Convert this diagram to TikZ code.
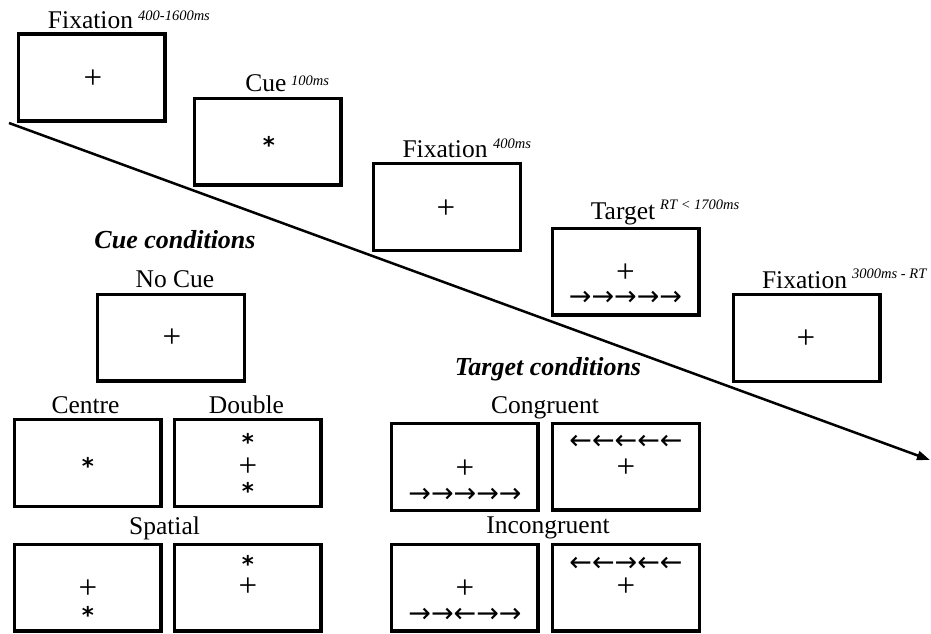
\documentclass[tikz,border=0pt]{standalone}
\usepackage{fontspec}
\setmainfont{Liberation Serif}
\newfontfamily\arrowfont{DejaVu Sans}
\newfontfamily\astfont{DejaVu Sans}
\usetikzlibrary{arrows.meta}
\newcommand\plusg{{\fontsize{33}{33}\selectfont +}}
\newcommand\astg{{\fontsize{23}{23}\astfont\bfseries *}}
\newcommand\arrg[1]{{\fontsize{27}{27}\arrowfont #1}}
\newcommand\gl[2]{\baselineskip=#1\relax\hbox to 0pt{\hss#2\hss}}
\newcommand\gstack[1]{\vbox{\lineskiplimit=-1000pt\lineskip=0pt #1}}
\tikzset{
  frame/.style={draw=black, line width=3.3pt, minimum width=146.7pt, minimum height=86.7pt, inner sep=0pt},
  lbl/.style={inner sep=0pt, anchor=base, font=\fontsize{25.5}{30}\selectfont},
  supl/.style={inner sep=0pt, anchor=base west, font=\fontsize{14.5}{16}\selectfont\itshape},
  head/.style={inner sep=0pt, anchor=base, font=\fontsize{26}{30}\selectfont\bfseries\itshape},
  plussign/.style={inner sep=0pt, yshift=-2pt, font=\fontsize{33}{33}\selectfont},
  astsign/.style={inner sep=0pt, anchor=base, yshift=2.5pt, font=\fontsize{23}{23}\selectfont\astfont\bfseries},
  gnode/.style={inner sep=0pt, anchor=base},
  timeline/.style={line width=2.5pt, -{Triangle[length=13pt,width=9pt]}}
}
\begin{document}
\begin{tikzpicture}[x=1pt,y=-1pt]
\useasboundingbox (0,0) rectangle (931,634);
\clip (0,0) rectangle (931,634);
% timeline
\coordinate (tstart) at (9,123);
\coordinate (tend) at (930,460);
\draw[timeline] (tstart) -- (tend);
% sequence boxes
\node[frame] (b1) at (91.5,77.5) {};
\node[frame] (b2) at (267.5,141.5) {};
\node[frame] (b3) at (447,207) {};
\node[frame] (b4) at (625.5,271.5) {};
\node[frame] (b5) at (806.5,338) {};
% titles
\node[lbl] (t1) at (90.5,29) {Fixation};
\node[supl] (s1) at (138,21) {400-1600ms};
\node[lbl] (t2) at (266,92) {Cue};
\node[supl] (s2) at (291,85) {100ms};
\node[lbl] (t3) at (445,157) {Fixation};
\node[supl] (s3) at (493,148) {400ms};
\node[lbl] (t4) at (623,219) {Target};
\node[supl] (s4) at (660,209) {RT < 1700ms};
\node[lbl] (t5) at (804.5,288) {Fixation};
\node[supl] (s5) at (852,278) {3000ms - RT};
% contents of sequence
\node[plussign] (p1) at (93,77) {+};
\node[astsign] (a2) at (269,156) {*};
\node[plussign] (p3) at (446,207) {+};
\node[gnode] (c4) at (625.5,305) {\gstack{\gl{0pt}{\plusg}\gl{22.7pt}{\arrg{→→→→→}}}};
\node[plussign] (p5) at (806,337) {+};
% cue conditions
\node[head] (cuehead) at (175,248) {Cue conditions};
\node[lbl] (nocuel) at (175,287) {No Cue};
\node[frame] (nocue) at (171,337.5) {};
\node[plussign] (pnc) at (172,336) {+};
\node[lbl] (centrel) at (85.5,413) {Centre};
\node[lbl] (doublel) at (246.5,413) {Double};
\node[frame] (centre) at (87.5,463) {};
\node[frame] (double) at (247.5,463) {};
\node[astsign] (ac) at (88,477) {*};
\node[gnode] (cd) at (248,499.5) {\gstack{\gl{0pt}{\astg}\gl{25.8pt}{\plusg}\gl{23.2pt}{\astg}}};
\node[lbl] (spatiall) at (164.5,534) {Spatial};
\node[frame] (spatl) at (87.5,587.5) {};
\node[frame] (spatr) at (247.5,587.5) {};
\node[gnode] (csl) at (88,623.5) {\gstack{\gl{0pt}{\plusg}\gl{25.2pt}{\astg}}};
\node[gnode] (csr) at (248,596.3) {\gstack{\gl{0pt}{\astg}\gl{23.8pt}{\plusg}}};
% target conditions
\node[head] (tarhead) at (548,375) {Target conditions};
\node[lbl] (congl) at (545,413) {Congruent};
\node[frame] (cong1) at (464.5,467) {};
\node[frame] (cong2) at (626,466.5) {};
\node[gnode] (cc1) at (465,502) {\gstack{\gl{0pt}{\plusg}\gl{23.7pt}{\arrg{→→→→→}}}};
\node[gnode] (cc2) at (626,477.3) {\gstack{\gl{0pt}{\arrg{←←←←←}}\gl{28.3pt}{\plusg}}};
\node[lbl] (incl) at (548,533) {Incongruent};
\node[frame] (inc1) at (464.5,587.5) {};
\node[frame] (inc2) at (626,587.5) {};
\node[gnode] (ci1) at (465,622) {\gstack{\gl{0pt}{\plusg}\gl{23.7pt}{\arrg{→→←→→}}}};
\node[gnode] (ci2) at (626,596.3) {\gstack{\gl{0pt}{\arrg{←←→←←}}\gl{25.3pt}{\plusg}}};
\end{tikzpicture}
\end{document}
